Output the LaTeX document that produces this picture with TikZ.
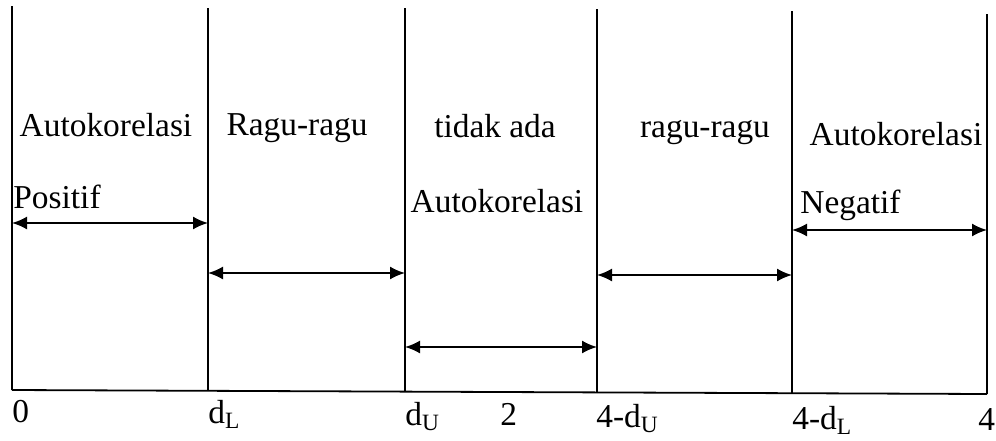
\documentclass[tikz,border=0pt]{standalone}
\usepackage{fontspec}
\setmainfont{Liberation Serif}
\usetikzlibrary{arrows.meta}
\begin{document}
\begin{tikzpicture}[x=0.5pt,y=-0.5pt,
  bound/.style={line width=0.9pt},
  span/.style={line width=0.9pt,{Latex[length=7.5pt,width=6.5pt]}-{Latex[length=7.5pt,width=6.5pt]}},
  lbl/.style={inner sep=0pt,anchor=base,font=\fontsize{16.7}{19}\selectfont},
  lblw/.style={lbl,anchor=base west}]
\useasboundingbox (0,0) rectangle (996,440);
% boundaries
\coordinate (t0) at (12,6);   \coordinate (b0) at (12,390);
\coordinate (t1) at (208,8);  \coordinate (b1) at (208,390);
\coordinate (t2) at (405,8);  \coordinate (b2) at (405,391);
\coordinate (t3) at (597,9);  \coordinate (b3) at (597,392);
\coordinate (t4) at (792,11); \coordinate (b4) at (792,393);
\coordinate (t5) at (987,14); \coordinate (b5) at (987,394);
\foreach \i in {0,...,5} \draw[bound] (t\i) -- (b\i);
\draw[bound] (b0) -- (b5);
% arrow ends
\coordinate (a0l) at (12,223);  \coordinate (a0r) at (208,223);
\coordinate (a1l) at (208,273); \coordinate (a1r) at (405,273);
\coordinate (a2l) at (405,347); \coordinate (a2r) at (597,347);
\coordinate (a3l) at (597,275); \coordinate (a3r) at (792,275);
\coordinate (a4l) at (792,230); \coordinate (a4r) at (987,230);
\draw[span] (a0l) -- (a0r);
\draw[span] (a1l) -- (a1r);
\draw[span] (a2l) -- (a2r);
\draw[span] (a3l) -- (a3r);
\draw[span] (a4l) -- (a4r);
% region texts
\node[lbl] (r1a) at (106,136) {Autokorelasi};
\node[lblw] (r1b) at (13,208) {Positif};
\node[lbl] (r2a) at (297,135) {Ragu-ragu};
\node[lbl] (r3a) at (495,137) {tidak ada};
\node[lbl] (r3b) at (497,212) {Autokorelasi};
\node[lbl] (r4a) at (705,137) {ragu-ragu};
\node[lbl] (r5a) at (896,145) {Autokorelasi};
\node[lblw] (r5b) at (800,213) {Negatif};
% axis labels
\node[lblw] (x0) at (12,422) {0};
\node[lblw] (x1) at (208,423) {d\textsubscript{L}};
\node[lblw] (x2) at (405,425) {d\textsubscript{U}};
\node[lblw] (x2b) at (500,425) {2};
\node[lblw] (x3) at (596,427) {4-d\textsubscript{U}};
\node[lblw] (x4) at (792,429) {4-d\textsubscript{L}};
\node[lblw] (x5) at (978,430) {4};
\end{tikzpicture}
\end{document}
